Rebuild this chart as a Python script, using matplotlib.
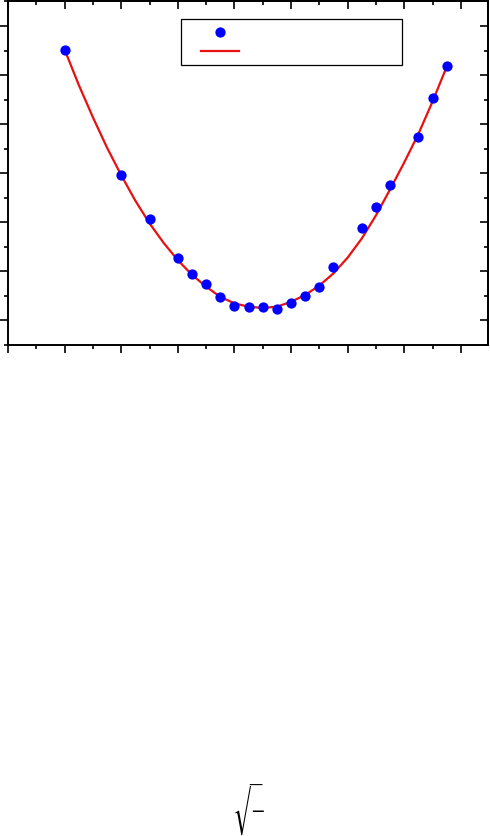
import matplotlib
matplotlib.use('Agg')
import matplotlib.pyplot as plt
from matplotlib.ticker import MultipleLocator
from matplotlib.lines import Line2D
from matplotlib.textpath import TextPath
from matplotlib.font_manager import FontProperties

# data
x_data = [1.0, 2.0, 2.5, 3.0, 3.25, 3.5, 3.75, 4.0, 4.25, 4.5, 4.75,
          5.0, 5.25, 5.5, 5.75, 6.25, 6.5, 6.75, 7.25, 7.5, 7.75]
y_data = [6.52, 3.97, 3.06, 2.28, 1.95, 1.74, 1.47, 1.29, 1.27, 1.27, 1.23,
          1.35, 1.49, 1.69, 2.08, 2.88, 3.32, 3.76, 4.74, 5.54, 6.18]
x_fit = [1.0, 1.25, 1.5, 1.75, 2.0, 2.25, 2.5, 2.75, 3.0, 3.25, 3.5, 3.75,
         4.0, 4.25, 4.5, 4.75, 5.0, 5.25, 5.5, 5.75, 6.0, 6.25, 6.5, 6.75,
         7.0, 7.25, 7.5, 7.75]
y_fit = [6.52, 5.80, 5.14, 4.52, 3.96, 3.44, 2.98, 2.58, 2.23, 1.93, 1.69, 1.48,
         1.35, 1.28, 1.255, 1.28, 1.38, 1.52, 1.71, 1.96, 2.28, 2.67, 3.14, 3.67,
         4.22, 4.80, 5.46, 6.17]

W, H = 490, 836
DPI = 100
fig = plt.figure(figsize=(W / DPI, H / DPI), dpi=DPI)
ax = fig.add_axes([8 / W, 1 - 345 / H, 480 / W, 344 / H])

ax.plot(x_fit, y_fit, color='#e81010', lw=1.6, zorder=2)
ax.plot(x_data, y_data, 'o', color='#0000ff', ms=7.4, mec='none', zorder=3)

ax.set_xlim(0, 8.48)
ax.set_ylim(0.5, 7.51)
for a in (ax.xaxis, ax.yaxis):
    a.set_major_locator(MultipleLocator(1))
    a.set_minor_locator(MultipleLocator(0.5))
ax.tick_params(which='both', direction='out', width=1.2, labelbottom=False,
               labelleft=False, top=False, right=False)
ax.tick_params(which='major', length=5.5)
ax.tick_params(which='minor', length=3)
for s in ax.spines.values():
    s.set_linewidth(1.4)

sx = ax.secondary_xaxis('top')
sy = ax.secondary_yaxis('right')
for sa, axis in ((sx, sx.xaxis), (sy, sy.yaxis)):
    axis.set_major_locator(MultipleLocator(1))
    axis.set_minor_locator(MultipleLocator(0.5))
    sa.tick_params(which='both', direction='in', width=1.2,
                   labeltop=False, labelright=False)
    sa.tick_params(which='major', length=5.5)
    sa.tick_params(which='minor', length=3)
    for s in sa.spines.values():
        s.set_linewidth(1.4)

handles = [Line2D([], [], ls='none', marker='o', color='#0000ff', ms=7.4, mec='none'),
           Line2D([], [], color='#e81010', lw=1.6)]
leg = ax.legend(handles, ['', ''], loc='upper left',
                bbox_to_anchor=(173 / 480, 0.947, 221 / 480, 0.0),
                mode='expand', fancybox=False, framealpha=1, edgecolor='black',
                fontsize=10, handlelength=2.7, labelspacing=0.4, borderpad=0.45,
                borderaxespad=0, markerfirst=False, handletextpad=1.0)
leg.get_frame().set_linewidth(0.9)


# ---- leftover radical sign of the (unrendered) axis title ----
def ink(s, family, size):
    tp = TextPath((0, 0), s, size=size, prop=FontProperties(family=family))
    e = tp.get_extents()
    k = DPI / 72.0
    return e.x0 * k, e.x1 * k, e.y0 * k, e.y1 * k


def put_text(s, family, left_px, top_px, height_px=None, width_px=None):
    x0, x1, y0, y1 = ink(s, family, 10)
    if height_px is not None:
        size = 10 * height_px / (y1 - y0)
    else:
        size = 10 * width_px / (x1 - x0)
    x0, x1, y0, y1 = ink(s, family, size)
    ox = left_px - x0
    base = top_px + y1
    fig.text(ox / W, 1 - base / H, s, fontfamily=family, fontsize=size,
             ha='left', va='baseline')
    return left_px + (x1 - x0), top_px + (y1 - y0)


fam = 'STIXSizeThreeSym'
try:
    FontProperties(family=fam)
    rx1, _ = put_text('\u221a', fam, 234, 785, height_px=50)
except Exception:
    rx1, _ = put_text('\u221a', 'DejaVu Serif', 234, 785, height_px=50)
put_text('\u2014', 'DejaVu Sans', rx1 - 1, 785, width_px=max(262 - rx1 + 1, 4))
put_text('\u2212', 'DejaVu Sans', max(249, rx1 + 2), 811, width_px=11)

fig.savefig('out.png', dpi=DPI)
